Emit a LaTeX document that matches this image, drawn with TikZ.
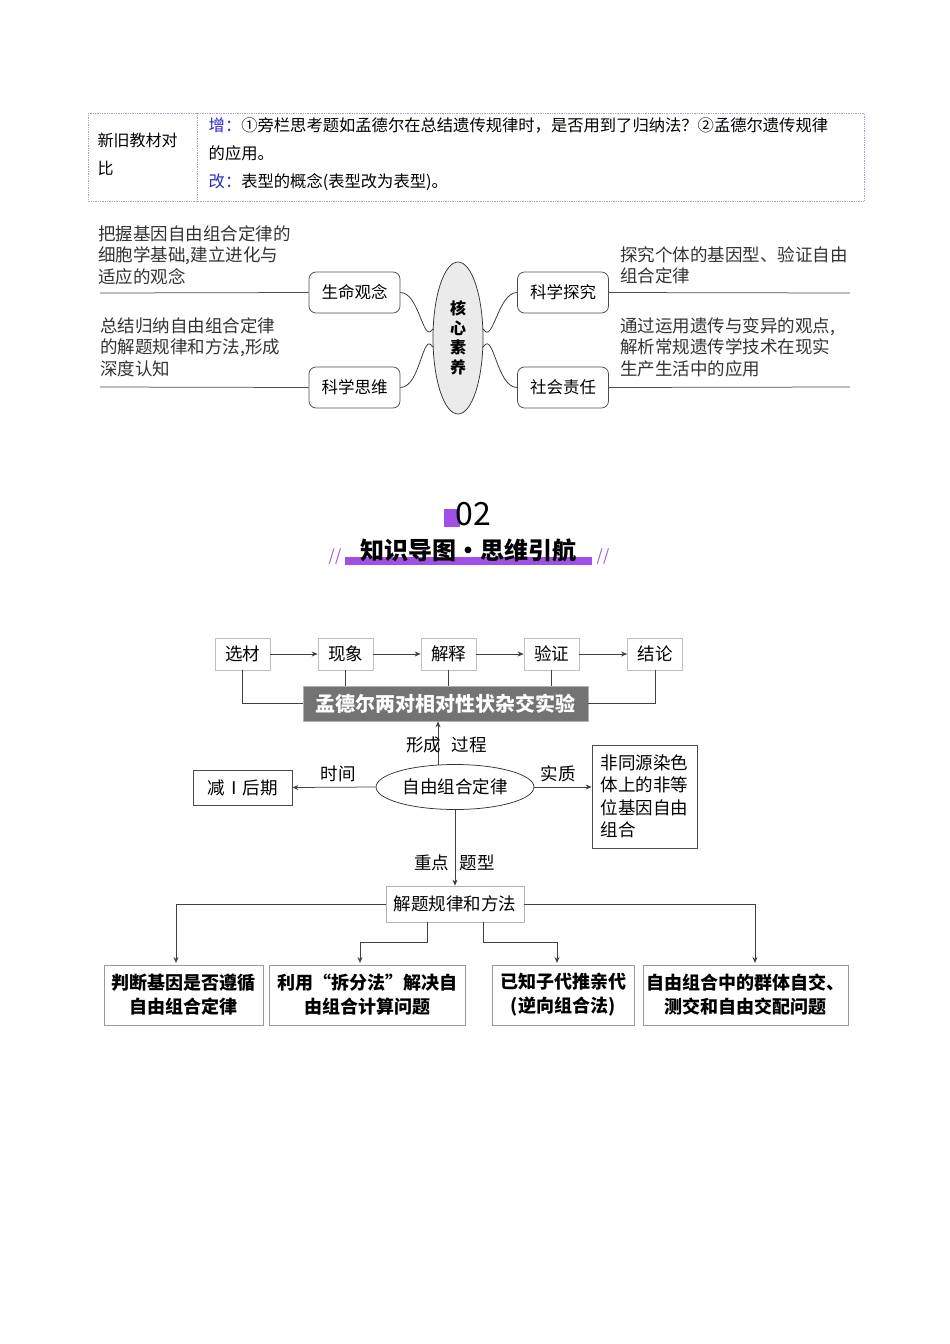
\documentclass[tikz,border=0pt]{standalone}
\usepackage{fontspec}
\setmainfont{Noto Sans CJK SC}
\usetikzlibrary{positioning,arrows.meta,shapes.geometric}
\definecolor{tblline}{RGB}{170,160,200}
\definecolor{zengblue}{RGB}{40,40,200}
\definecolor{titlepurple}{RGB}{160,80,230}
\tikzset{every picture/.style={line width=0.75pt}}
\tikzset{
  litbox/.style={draw=black!70,rounded corners=7pt,minimum width=91pt,minimum height=41pt,font=\fontsize{16.5}{16.5}\selectfont},
  note/.style={anchor=north west,inner sep=0pt,align=left,font=\fontsize{17.5}{21.5}\selectfont,text=black!80},
  stepbox/.style={draw=black!25,minimum width=55pt,minimum height=32pt,font=\fontsize{17.5}{17.5}\selectfont},
  plainbox/.style={draw=black!70,font=\fontsize{17.5}{22.5}\selectfont},
  qbox/.style={draw=black!40,minimum height=60pt,align=center,font=\bfseries\fontsize{18}{24}\selectfont},
  lab/.style={font=\fontsize{17.5}{17.5}\selectfont},
  arr/.style={-{Stealth[length=6pt,width=5pt]},black!75}
}
\begin{document}
\begin{tikzpicture}[x=1pt,y=1pt,yscale=-1]
		\useasboundingbox (0,0) rectangle (950,1344);
		
		%table of old and new
		\draw [tblline,densely dotted] (88,113) rectangle (864,201);
		\draw [tblline,densely dotted] (197,113) -- (197,201);
		\node [anchor=west,font=\fontsize{16}{28}\selectfont,align=left] (tbllabel) at (94,154) {新旧教材对\\比};
		\node [anchor=west,font=\fontsize{16.3}{16.3}\selectfont] (zeng) at (205,125) {\textcolor{zengblue}{增：}①旁栏思考题如孟德尔在总结遗传规律时，是否用到了归纳法？②孟德尔遗传规律};
		\node [anchor=west,font=\fontsize{16.3}{16.3}\selectfont] (zeng2) at (205,153) {的应用。};
		\node [anchor=west,font=\fontsize{16.3}{16.3}\selectfont] (gai) at (205,182) {\textcolor{zengblue}{改：}表型的概念(表型改为表型)。};
		
		%core literacy
		\node [ellipse,draw=black!80,fill=black!8,minimum width=50pt,minimum height=152pt] (core) at (458,338) {};
		\node [align=center,font=\bfseries\fontsize{16}{19.5}\selectfont] (corelabel) at (458,338) {核\\心\\素\\养};
		\node [litbox] (life) at (354.5,292.5) {生命观念};
		\node [litbox] (think) at (354.5,387.5) {科学思维};
		\node [litbox] (explore) at (563,292.5) {科学探究};
		\node [litbox] (duty) at (563,387.5) {社会责任};
		\draw [black!70] (100,293) -- (life.west);
		\draw [black!70] (100,387) -- (think.west);
		\draw [black!70] (explore.east) -- (850,293);
		\draw [black!70] (duty.east) -- (850,387);
		\draw [black!80] (life.east) to[out=0,in=120] (core.160);
		\draw [black!80] (think.east) to[out=0,in=240] (core.200);
		\draw [black!80] (explore.west) to[out=180,in=60] (core.20);
		\draw [black!80] (duty.west) to[out=180,in=300] (core.340);
		\node [note] (lifetext) at (98,225) {把握基因自由组合定律的\\细胞学基础,建立进化与\\适应的观念};
		\node [note] (thinktext) at (100,317) {总结归纳自由组合定律\\的解题规律和方法,形成\\深度认知};
		\node [note] (exploretext) at (620,246) {探究个体的基因型、验证自由\\组合定律};
		\node [note] (dutytext) at (620,317) {通过运用遗传与变异的观点,\\解析常规遗传学技术在现实\\生产生活中的应用};
		
		%section title
		\fill [titlepurple] (444,509) rectangle (460,527);
		\node [font=\fontsize{32}{32}\selectfont] (secnum) at (473,514) {02};
		\fill [titlepurple] (345,557) rectangle (592,565);
		\node [font=\bfseries\fontsize{24}{24}\selectfont] (sectitle) at (468,550) {知识导图•思维引航};
		\node [text=titlepurple,font=\itshape\fontsize{16}{16}\selectfont] (slashl) at (335,557) {//};
		\node [text=titlepurple,font=\itshape\fontsize{16}{16}\selectfont] (slashr) at (603,557) {//};
		
		%mind map
		\node [stepbox] (xuan) at (242.5,654) {选材};
		\node [stepbox] (xian) at (345.5,654) {现象};
		\node [stepbox] (jie) at (448.5,654) {解释};
		\node [stepbox] (yan) at (551.5,654) {验证};
		\node [stepbox] (jielun) at (655,654) {结论};
		\foreach \a/\b in {xuan/xian,xian/jie,jie/yan,yan/jielun}
			\draw [arr] (\a) -- (\b);
		\node [fill=black!55,draw=black!30,minimum width=285pt,minimum height=35pt,text=white,font=\bfseries\fontsize{20}{20}\selectfont] (mendel) at (445.5,703.5) {孟德尔两对相对性状杂交实验};
		\draw [black!75] (xuan.south) |- (mendel.west);
		\draw [black!75] (jielun.south) |- (mendel.east);
		\foreach \s in {xian,jie,yan}
			\draw [black!75] (\s.south) -- (\s.south |- mendel.north);
		
		\node [ellipse,draw=black!80,minimum width=144pt,minimum height=45pt,font=\fontsize{17.5}{17.5}\selectfont] (law) at (455,787) {自由组合定律};
		\coordinate (lawtop) at (438,765);
		\draw [arr] (lawtop) -- (lawtop |- mendel.south);
		\node [lab,anchor=east] (xingcheng) at (445,745) {形成};
		\node [lab,anchor=west] (guocheng) at (448,745) {过程};
		\node [plainbox,minimum width=99pt,minimum height=35pt] (meiosis) at (242.5,787.5) {减Ⅰ后期};
		\draw [arr] (law.west) -- (meiosis.east);
		\node [lab] (shijian) at (338,774) {时间};
		\node [plainbox,minimum width=105pt,minimum height=103pt,align=left] (essence) at (644.5,796.5) {非同源染色\\体上的非等\\位基因自由\\组合};
		\draw [arr] (law.east) -- (law.east -| essence.west);
		\node [lab] (shizhi) at (558,774) {实质};
		
		\node [draw=black!30,minimum width=138pt,minimum height=36pt,font=\fontsize{17.5}{17.5}\selectfont] (method) at (455,904) {解题规律和方法};
		\draw [arr] (law.south) -- (method.north);
		\node [lab,anchor=east] (zhongdian) at (453,863) {重点};
		\node [lab,anchor=west] (tixing) at (456,863) {题型};
		
		\node [qbox,minimum width=159pt] (q1) at (183.5,995) {判断基因是否遵循\\自由组合定律};
		\node [qbox,minimum width=196pt] (q2) at (367,995) {利用“拆分法”解决自\\由组合计算问题};
		\node [qbox,minimum width=142pt] (q3) at (563,995) {已知子代推亲代\\(逆向组合法)};
		\node [qbox,minimum width=205pt] (q4) at (745.5,995) {自由组合中的群体自交、\\测交和自由交配问题};
		\coordinate (c1) at (176,963);
		\coordinate (c2) at (360,963);
		\coordinate (c3) at (557,963);
		\coordinate (c4) at (755,963);
		\draw [arr] (method.west) -| (c1);
		\draw [arr] (method.east) -| (c4);
		\draw [arr] ([xshift=-28pt]method.south) |- (360,942) -- (c2);
		\draw [arr] ([xshift=28pt]method.south) |- (557,942) -- (c3);
		
	\end{tikzpicture}
\end{document}
